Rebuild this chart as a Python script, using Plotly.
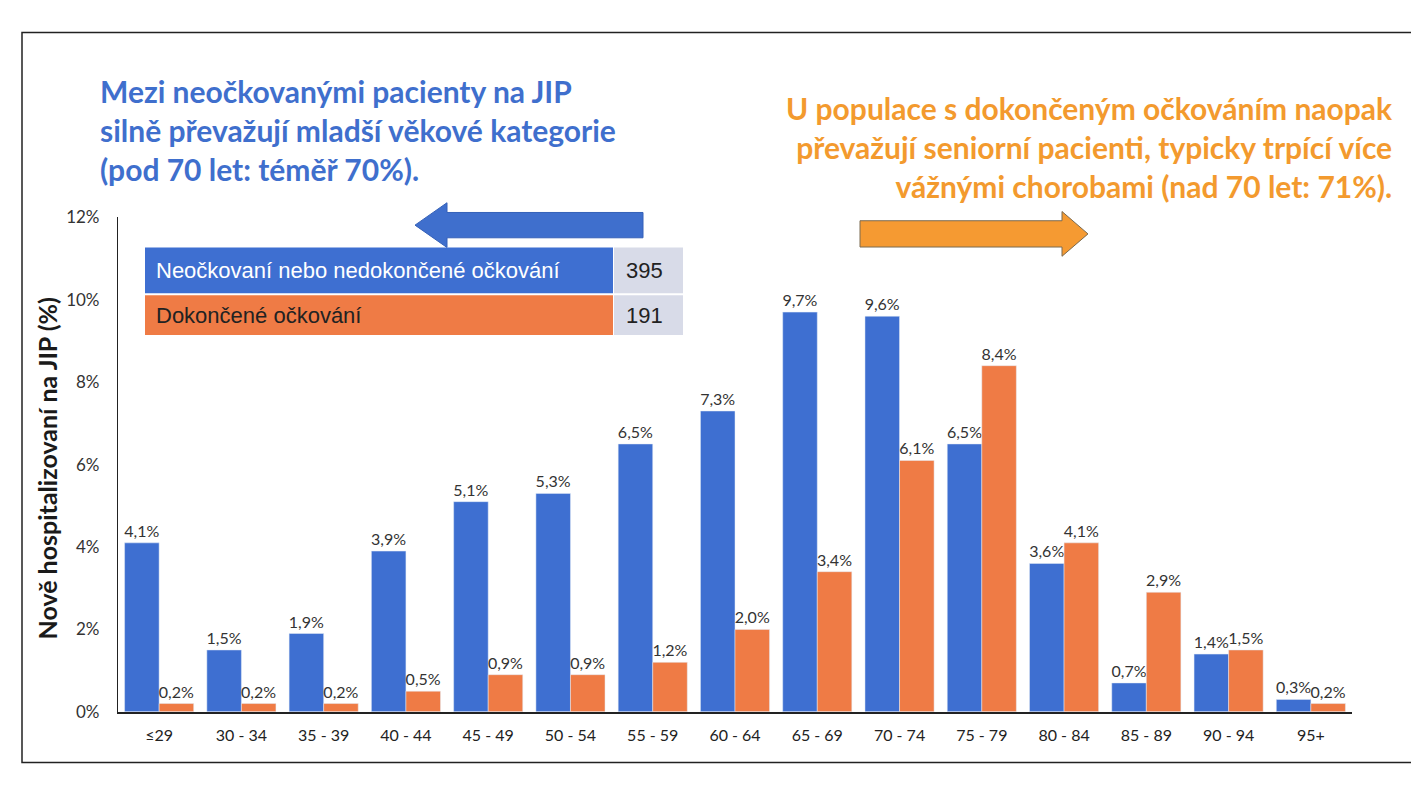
import plotly.graph_objects as go

# Age groups and share of new ICU admissions (%) per vaccination status
age_groups = ["≤29", "30 - 34", "35 - 39", "40 - 44", "45 - 49", "50 - 54", "55 - 59",
              "60 - 64", "65 - 69", "70 - 74", "75 - 79", "80 - 84", "85 - 89", "90 - 94", "95+"]
unvaccinated = [4.1, 1.5, 1.9, 3.9, 5.1, 5.3, 6.5, 7.3, 9.7, 9.6, 6.5, 3.6, 0.7, 1.4, 0.3]
vaccinated = [0.2, 0.2, 0.2, 0.5, 0.9, 0.9, 1.2, 2.0, 3.4, 6.1, 8.4, 4.1, 2.9, 1.5, 0.2]
y_ticks = [0, 2, 4, 6, 8, 10, 12]
legend_rows = ["Neočkovaní nebo nedokončené očkování", "Dokončené očkování"]
legend_counts = [395, 191]

W, H = 1411, 787
BLUE = "#3e6fd1"
ORANGE = "#ef7b45"
FONT = "Lato"


def px(x):
    return x / W


def py(y):
    return 1 - y / H


def cz(v):
    return f"{v:.1f}%".replace(".", ",")


fig = go.Figure()
for vals, col, name in [(unvaccinated, BLUE, legend_rows[0]), (vaccinated, ORANGE, legend_rows[1])]:
    fig.add_bar(x=age_groups, y=vals, marker_color=col, name=name,
                text=[cz(v) for v in vals], textposition="outside", constraintext="none",
                textfont=dict(size=16, color="#333333", family=FONT), cliponaxis=False)

fig.update_layout(
    width=W, height=H, margin=dict(l=0, r=0, t=0, b=0),
    paper_bgcolor="white", plot_bgcolor="white",
    barmode="group", bargap=0.16, bargroupgap=0.0, showlegend=False,
    font=dict(family=FONT, color="#333333"),
)
fig.update_xaxes(domain=[px(118), px(1352)], showline=True, linecolor="#222222", linewidth=1.5,
                 ticks="", showgrid=False, ticklabelstandoff=8,
                 tickfont=dict(size=16, color="#222222", family=FONT))
fig.update_yaxes(domain=[py(720), py(212)], range=[0, 12], tickvals=y_ticks,
                 ticktext=[f"{t}%" for t in y_ticks], showline=True, linecolor="#222222",
                 linewidth=1.2, showgrid=False, zeroline=False, ticks="", ticklabelstandoff=14,
                 tickfont=dict(size=17, color="#333333", family=FONT))

ann = []
# Axis title
ann.append(dict(x=px(30), y=py(470), xref="paper", yref="paper", text="<b>Nově hospitalizovaní na JIP (%)</b>",
                textangle=-90, showarrow=False, font=dict(size=25, color="#1a1a1a", family=FONT)))

# Headline texts
ann.append(dict(x=px(98), y=py(122), xref="paper", yref="paper", xanchor="left", yanchor="middle",
                align="left", showarrow=False,
                text="<b>Mezi neočkovanými pacienty na JIP<br>silně převažují mladší věkové kategorie<br>(pod 70 let: téměř 70%).</b>",
                font=dict(size=30, color="#3f6fcd", family=FONT)))
ann.append(dict(x=px(1395), y=py(140), xref="paper", yref="paper", xanchor="right", yanchor="middle",
                align="right", showarrow=False,
                text="<b>U populace s dokončeným očkováním naopak<br>převažují seniorní pacienti, typicky trpící více<br>vážnými chorobami (nad 70 let: 71%).</b>",
                font=dict(size=30, color="#f39a2e", family=FONT)))

shapes = []
# Outer slide frame
shapes.append(dict(type="rect", xref="paper", yref="paper", x0=px(22), x1=px(1420), y0=py(772), y1=py(22),
                   line=dict(color="#222222", width=1.5), fillcolor="rgba(0,0,0,0)"))


def arrow_path(tail, base, tip, yc, shaft_h, head_h):
    pts = [(tail, yc - shaft_h / 2), (base, yc - shaft_h / 2), (base, yc - head_h / 2), (tip, yc),
           (base, yc + head_h / 2), (base, yc + shaft_h / 2), (tail, yc + shaft_h / 2)]
    return "M " + " L ".join(f"{px(x):.5f},{py(y):.5f}" for x, y in pts) + " Z"


shapes.append(dict(type="path", xref="paper", yref="paper", path=arrow_path(643, 447, 415, 220, 26, 46),
                   fillcolor="#3f6fcd", line=dict(color="#3561b8", width=1)))
shapes.append(dict(type="path", xref="paper", yref="paper", path=arrow_path(860, 1062, 1088, 229, 27, 46),
                   fillcolor="#f59a32", line=dict(color="#7a6a50", width=1)))

# Legend table
rows_y = [(243, 290), (292, 333)]
row_colors = [BLUE, ORANGE]
text_colors = ["white", "#222222"]
for (y0, y1), col, tcol, label, n in zip(rows_y, row_colors, text_colors, legend_rows, legend_counts):
    shapes.append(dict(type="rect", xref="paper", yref="paper", x0=px(145), x1=px(613), y0=py(y1), y1=py(y0),
                       fillcolor=col, line=dict(width=0)))
    shapes.append(dict(type="rect", xref="paper", yref="paper", x0=px(614), x1=px(683), y0=py(y1), y1=py(y0),
                       fillcolor="#d8dbe8", line=dict(width=0)))
    ann.append(dict(x=px(154), y=py((y0 + y1) / 2), xref="paper", yref="paper", xanchor="left",
                    showarrow=False, text=label, font=dict(size=22, color=tcol, family="Liberation Sans")))
    ann.append(dict(x=px(624), y=py((y0 + y1) / 2), xref="paper", yref="paper", xanchor="left",
                    showarrow=False, text=str(n), font=dict(size=22, color="#222222", family="Liberation Sans")))

fig.update_layout(annotations=ann, shapes=shapes)
fig.write_html("out.html")
